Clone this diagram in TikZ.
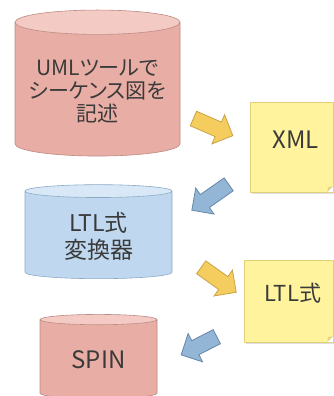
\documentclass[tikz,border=0pt]{standalone}
\usepackage{fontspec}
\setmainfont[RawFeature=+palt]{Noto Sans CJK JP}
\usetikzlibrary{shapes.geometric,shapes.arrows,shadows}

\definecolor{dbpinkbody}{HTML}{E8ADA4}
\definecolor{dbpinkend}{HTML}{F3CBC4}
\definecolor{dbpinkline}{HTML}{BC8A82}
\definecolor{dbbluebody}{HTML}{BFD8EF}
\definecolor{dbblueend}{HTML}{D8E8F6}
\definecolor{dbblueline}{HTML}{8CA9C6}
\definecolor{notefill}{HTML}{FFF39E}
\definecolor{noteline}{HTML}{E0CE78}
\definecolor{notefold}{HTML}{E6D585}
\definecolor{arryellow}{HTML}{F4CD5E}
\definecolor{arryellowline}{HTML}{C9A24A}
\definecolor{arrblue}{HTML}{94B6D6}
\definecolor{arrblueline}{HTML}{6587A8}
\definecolor{labeltext}{HTML}{3A3A3A}

\tikzset{
	db/.style={cylinder,shape border rotate=90,aspect=0.17,semithick,
		cylinder uses custom fill,align=center,text=labeltext},
	dbpink/.style={db,draw=dbpinkline,cylinder body fill=dbpinkbody,cylinder end fill=dbpinkend},
	dbblue/.style={db,draw=dbblueline,cylinder body fill=dbbluebody,cylinder end fill=dbblueend},
	notebox/.style={rectangle,draw=noteline,fill=notefill,inner sep=0pt,
		drop shadow={opacity=0.25,shadow xshift=1.5pt,shadow yshift=-1.5pt}},
	blockarrow/.style={single arrow,thick,inner sep=7.5pt,single arrow head extend=8pt,
		single arrow head indent=0pt,anchor=center},
	yarrow/.style={blockarrow,draw=arryellowline,fill=arryellow},
	barrow/.style={blockarrow,draw=arrblueline,fill=arrblue}
}

\begin{document}
\begin{tikzpicture}[x=1pt,y=1pt]
		\useasboundingbox (0,0) rectangle (334,-396);
		\node[dbpink,minimum width=165,minimum height=146,font=\fontsize{21}{23}\selectfont] (uml) at (97.5,-91) {UMLツールで\\シーケンス図を\\記述};
		\node[dbblue,minimum width=147,minimum height=94,font=\fontsize{23}{27}\selectfont] (conv) at (98.5,-236) {LTL式\\変換器};
		\node[dbpink,minimum width=117,minimum height=84,font=\fontsize{24}{28}\selectfont] (spin) at (98.5,-360) {SPIN};
		\begin{scope}[every node/.style={text=labeltext}]
			\node[notebox,minimum width=83,minimum height=90] (xml) at (291.5,-147) {};
			\node[font=\fontsize{24}{28}\selectfont] (xmltext) at ([shift={(4,7)}]xml.center) {XML};
			\node[notebox,minimum width=89,minimum height=82] (ltl) at (288.5,-301) {};
			\node[font=\fontsize{22}{26}\selectfont] (ltltext) at ([shift={(4.5,8)}]ltl.center) {LTL式};
		\end{scope}
		\fill[white] (xml.south east) -- ++(-6,0) -- ++(6,6) -- cycle;
		\fill[notefold] ([xshift=-6]xml.south east) -- ++(6,6) -- ++(-5,-1) -- cycle;
		\fill[white] (ltl.south east) -- ++(-6,0) -- ++(6,6) -- cycle;
		\fill[notefold] ([xshift=-6]ltl.south east) -- ++(6,6) -- ++(-5,-1) -- cycle;
		\node[yarrow,minimum height=43,rotate=-23.5] (umltoxml) at (209.5,-125.5) {};
		\node[barrow,minimum height=45,rotate=215] (xmltoconv) at (213.5,-195) {};
		\node[yarrow,minimum height=43,rotate=-35.5] (convtoltl) at (215.5,-277.5) {};
		\node[barrow,minimum height=40,rotate=207] (ltltospin) at (202.5,-344) {};
	\end{tikzpicture}
\end{document}
